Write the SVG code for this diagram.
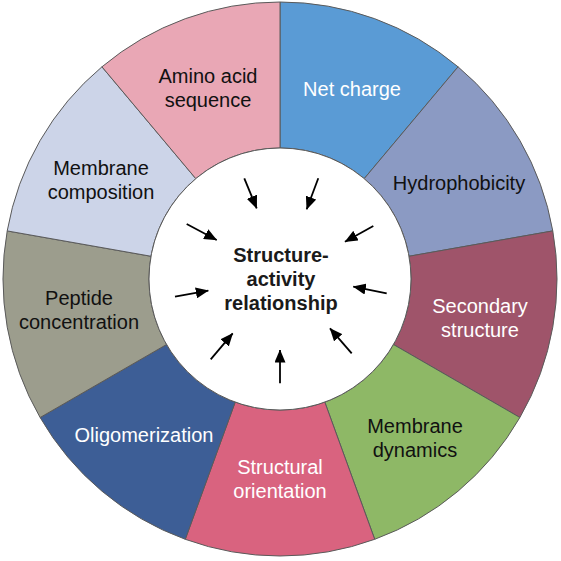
<svg xmlns="http://www.w3.org/2000/svg" width="561" height="561" viewBox="0 0 561 561">
<defs>
<style>
.sec{stroke:#5a5a5a;stroke-width:1}
.lbl{font-family:"Liberation Sans",Arial,sans-serif;font-size:20px;text-anchor:middle}
.w{fill:#ffffff}
.k{fill:#111111}
.ctr{font-family:"Liberation Sans",Arial,sans-serif;font-size:20px;font-weight:bold;text-anchor:middle;fill:#1a1a1a}
.arr{stroke:#000;stroke-width:1.8;fill:none;marker-end:url(#ah)}
</style>
<marker id="ah" markerUnits="userSpaceOnUse" markerWidth="13" markerHeight="11" refX="12.5" refY="5.5" orient="auto">
<path d="M0,0 L13,5.5 L0,11 Z" fill="#000"/>
</marker>
</defs>
<rect width="561" height="561" fill="#fff"/>
<g id="net-charge">
<path class="sec" fill="#5a9bd5" d="M280,2 A277,277 0 0 1 458.05,66.82 L364.21,178.65 A131,131 0 0 0 280,148 Z"/>
<text class="lbl w" x="352" y="96">Net charge</text>
</g>
<g id="hydrophobicity">
<path class="sec" fill="#8b9ac3" d="M458.05,66.82 A277,277 0 0 1 552.79,230.91 L409.01,256.26 A131,131 0 0 0 364.21,178.65 Z"/>
<text class="lbl k" x="459" y="190">Hydrophobicity</text>
</g>
<g id="secondary-structure">
<path class="sec" fill="#9f546a" d="M552.79,230.91 A277,277 0 0 1 519.88,417.5 L393.45,344.5 A131,131 0 0 0 409.01,256.26 Z"/>
<text class="lbl w" x="480" y="313">Secondary</text>
<text class="lbl w" x="480" y="337">structure</text>
</g>
<g id="membrane-dynamics">
<path class="sec" fill="#8eb866" d="M519.88,417.5 A277,277 0 0 1 374.73,539.3 L324.8,402.1 A131,131 0 0 0 393.45,344.5 Z"/>
<text class="lbl k" x="415" y="433">Membrane</text>
<text class="lbl k" x="415" y="457">dynamics</text>
</g>
<g id="structural-orientation">
<path class="sec" fill="#d9637f" d="M374.73,539.3 A277,277 0 0 1 185.27,539.3 L235.2,402.1 A131,131 0 0 0 324.8,402.1 Z"/>
<text class="lbl w" x="280" y="474">Structural</text>
<text class="lbl w" x="280" y="498">orientation</text>
</g>
<g id="oligomerization">
<path class="sec" fill="#3d5e96" d="M185.27,539.3 A277,277 0 0 1 40.12,417.5 L166.55,344.5 A131,131 0 0 0 235.2,402.1 Z"/>
<text class="lbl w" x="144" y="442">Oligomerization</text>
</g>
<g id="peptide-concentration">
<path class="sec" fill="#9c9d8d" d="M40.12,417.5 A277,277 0 0 1 7.21,230.91 L150.99,256.26 A131,131 0 0 0 166.55,344.5 Z"/>
<text class="lbl k" x="79" y="305">Peptide</text>
<text class="lbl k" x="79" y="329">concentration</text>
</g>
<g id="membrane-composition">
<path class="sec" fill="#ccd4e8" d="M7.21,230.91 A277,277 0 0 1 101.95,66.82 L195.79,178.65 A131,131 0 0 0 150.99,256.26 Z"/>
<text class="lbl k" x="101" y="175">Membrane</text>
<text class="lbl k" x="101" y="199">composition</text>
</g>
<g id="amino-acid-sequence">
<path class="sec" fill="#e9a7b5" d="M101.95,66.82 A277,277 0 0 1 280,2 L280,148 A131,131 0 0 0 195.79,178.65 Z"/>
<text class="lbl k" x="208" y="83">Amino acid</text>
<text class="lbl k" x="208" y="107">sequence</text>
</g>
<g id="center">
<circle cx="280" cy="279" r="131" fill="#fff" stroke="#5a5a5a" stroke-width="1"/>
<text class="ctr" x="281" y="262">Structure-</text>
<text class="ctr" x="281" y="286">activity</text>
<text class="ctr" x="281" y="310">relationship</text>
</g>
<g id="connectors">
<line class="arr" x1="244.3" y1="178.3" x2="256.7" y2="208.3"/>
<line class="arr" x1="318.3" y1="178.3" x2="306.7" y2="209.3"/>
<line class="arr" x1="186.7" y1="224" x2="216.7" y2="240"/>
<line class="arr" x1="373.3" y1="226" x2="345" y2="241.7"/>
<line class="arr" x1="175" y1="296.7" x2="208.3" y2="290.7"/>
<line class="arr" x1="386.7" y1="293.3" x2="353.3" y2="286.7"/>
<line class="arr" x1="210.7" y1="359.3" x2="232.7" y2="333.3"/>
<line class="arr" x1="280" y1="383.3" x2="280" y2="350"/>
<line class="arr" x1="351.7" y1="353.3" x2="330" y2="328.3"/>
</g>
</svg>
